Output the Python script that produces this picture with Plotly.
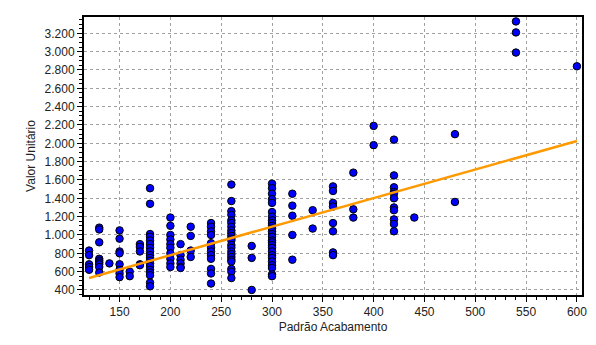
import plotly.graph_objects as go

# Observations grouped by "Padrão Acabamento" level
padrao_levels = [120, 130, 140, 150, 160, 170, 180, 200, 210, 220, 240, 260,
                 280, 300, 320, 340, 360, 380, 400, 420, 440, 480, 540, 600]

valores_120 = [830, 780, 680, 650, 620]
valores_130 = [1080, 1060, 920, 740, 720, 700, 680, 650, 590]
valores_140 = [690]
valores_150 = [1050, 960, 820, 800, 680, 620, 580, 540]
valores_160 = [600, 550]
valores_170 = [900, 870, 820, 680, 670]
valores_180 = [1510, 1340, 1010, 980, 940, 900, 860, 820, 780, 750, 720, 690,
               660, 620, 590, 560, 480, 440]
valores_200 = [1190, 1100, 1000, 950, 900, 860, 800, 740, 690, 650]
valores_210 = [900, 780, 730, 690, 650, 640]
valores_220 = [1090, 990, 830, 760]
valores_240 = [1130, 1090, 1040, 1000, 910, 860, 820, 780, 740, 630, 580, 470]
valores_260 = [1550, 1370, 1260, 1220, 1160, 1130, 1090, 1050, 1020, 990, 960,
               940, 890, 860, 820, 790, 760, 730, 710, 630, 600, 530]
valores_280 = [880, 750, 400]
valores_300 = [1560, 1510, 1450, 1390, 1350, 1250, 1200, 1160, 1130, 1100, 1070,
               1040, 1010, 980, 940, 920, 890, 860, 820, 780, 750, 710, 670, 640,
               570, 550]
valores_320 = [1450, 1320, 1210, 1000, 730]
valores_340 = [1270, 1070]
valores_360 = [1530, 1480, 1350, 1310, 1130, 1040, 810, 780]
valores_380 = [1680, 1280, 1190]
valores_400 = [2190, 1980]
valores_420 = [2040, 1650, 1520, 1470, 1450, 1400, 1300, 1270, 1170, 1120, 1040]
valores_440 = [1190]
valores_480 = [2100, 1360]
valores_540 = [3330, 3210, 2990]
valores_600 = [2840]

valores_por_nivel = [valores_120, valores_130, valores_140, valores_150, valores_160,
                     valores_170, valores_180, valores_200, valores_210, valores_220,
                     valores_240, valores_260, valores_280, valores_300, valores_320,
                     valores_340, valores_360, valores_380, valores_400, valores_420,
                     valores_440, valores_480, valores_540, valores_600]

# Fitted trend line end points
trend_x = [120, 600]
trend_y = [530, 2025]

y_ticks = list(range(400, 3201, 200))
x_ticks = list(range(150, 601, 50))

xs, ys = [], []
for lvl, vals in zip(padrao_levels, valores_por_nivel):
    xs.extend([lvl] * len(vals))
    ys.extend(vals)

fig = go.Figure()
fig.add_trace(go.Scatter(
    x=xs, y=ys, mode="markers",
    marker=dict(size=7.5, color="#0000FF", line=dict(color="black", width=1)),
    showlegend=False, cliponaxis=False,
))
fig.add_trace(go.Scatter(
    x=trend_x, y=trend_y, mode="lines",
    line=dict(color="#FF9900", width=2.5),
    showlegend=False,
))

font = dict(family="Liberation Sans, Arial, sans-serif", size=12, color="#222222")

fig.update_layout(
    width=596, height=345,
    margin=dict(l=84, r=9, t=17, b=50),
    plot_bgcolor="white", paper_bgcolor="white",
    separators=",.",
    font=font,
    xaxis=dict(
        range=[115, 605], tickvals=x_ticks, ticks="outside", ticklen=5,
        tickcolor="black", showline=True, linecolor="black", linewidth=2,
        mirror=True, showgrid=True, gridcolor="#A0A0A0", griddash="dot",
        gridwidth=1, zeroline=False,
        minor=dict(dtick=10, tick0=0, ticks="outside", ticklen=3,
                   tickcolor="black", showgrid=False),
        title=dict(text="Padrão Acabamento", font=font, standoff=4),
        tickfont=font,
    ),
    yaxis=dict(
        range=[345, 3378], tickvals=y_ticks, tickformat=",d", ticks="outside",
        ticklen=5, tickcolor="black", showline=True, linecolor="black",
        linewidth=2, mirror=True, showgrid=True, gridcolor="#A0A0A0",
        griddash="dot", gridwidth=1, zeroline=False,
        minor=dict(dtick=50, tick0=0, ticks="outside", ticklen=3,
                   tickcolor="black", showgrid=False),
        title=dict(text="Valor Unitário", font=font, standoff=6),
        tickfont=font,
    ),
)

fig.write_html("out.html")
